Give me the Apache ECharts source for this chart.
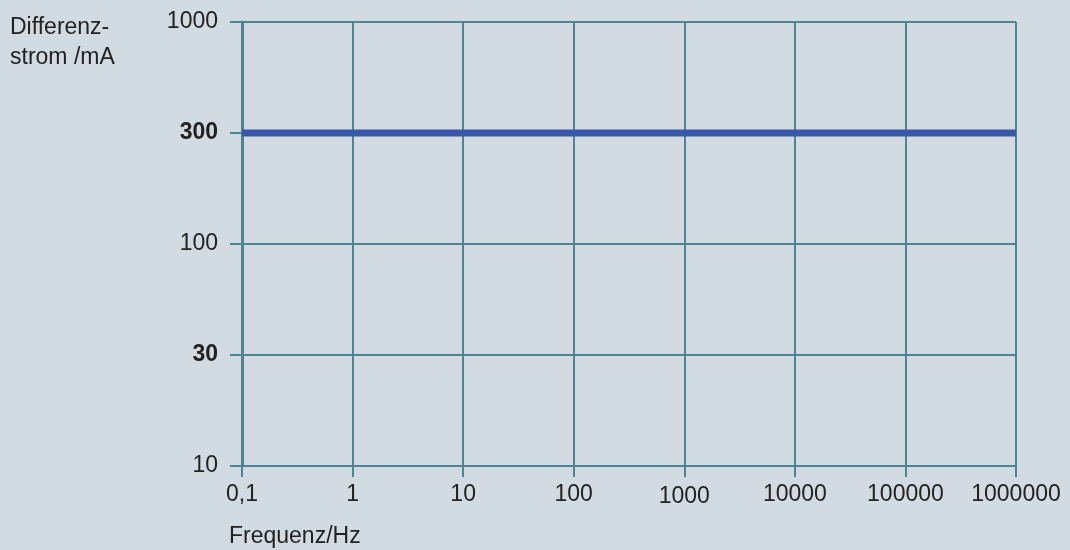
<!DOCTYPE html>
<html>
<head>
<meta charset="utf-8">
<script src="https://cdn.jsdelivr.net/npm/echarts@6/dist/echarts.min.js"></script>
<style>
html,body{margin:0;padding:0;background:#d2dbe1;}
#c{width:1070px;height:550px;}
</style>
</head>
<body>
<div id="c"></div>
<script>
const freqTicks = [0.1, 1, 10, 100, 1000, 10000, 100000, 1000000];
const freqLabels = ['0,1', '1', '10', '100', '1000', '10000', '100000', '1000000'];
const currentLevels = ['10', '30', '100', '300', '1000'];
const boldCurrentLevels = ['30', '300'];
const freq = [0.1, 1000000];
const current = ['300', '300'];

const axisColor = '#4e8593';
const textColor = '#222222';
const fontFamily = 'Liberation Sans, Arial, Helvetica, sans-serif';
const fs = 23;

const chart = echarts.init(document.getElementById('c'));
chart.setOption({
  backgroundColor: '#d2dbe1',
  animation: false,
  grid: { left: 242, right: 54, top: 22, bottom: 84, containLabel: false },
  title: [
    {
      text: 'Differenz-\nstrom /mA',
      left: 5, top: 8,
      textStyle: { fontFamily, fontSize: fs, fontWeight: 'normal', color: textColor, lineHeight: 30 }
    },
    {
      text: 'Frequenz/Hz',
      left: 224, top: 520,
      textStyle: { fontFamily, fontSize: fs, fontWeight: 'normal', color: textColor }
    }
  ],
  xAxis: {
    type: 'log',
    logBase: 10,
    min: 0.1,
    max: 1000000,
    axisLine: { show: true, lineStyle: { color: axisColor, width: 2 } },
    axisTick: { show: true, length: 11, customValues: freqTicks, lineStyle: { color: axisColor, width: 2 } },
    axisLabel: {
      customValues: freqTicks,
      margin: 17,
      fontFamily, fontSize: fs, color: textColor,
      formatter: function (v) {
        const i = freqTicks.findIndex(t => Math.abs(Math.log10(t) - Math.log10(v)) < 1e-6);
        if (i < 0) return '';
        return freqLabels[i] === '1000' ? '{d|1000}' : freqLabels[i];
      },
      rich: { d: { fontFamily, fontSize: fs, color: textColor, padding: [2, 0, 0, 0] } }
    },
    splitLine: { show: true, lineStyle: { color: axisColor, width: 2 } },
    minorTick: { show: false },
    minorSplitLine: { show: false }
  },
  yAxis: {
    type: 'category',
    data: currentLevels,
    boundaryGap: false,
    axisLine: { show: true, lineStyle: { color: axisColor, width: 3 } },
    axisTick: { show: true, length: 12, alignWithLabel: true, lineStyle: { color: axisColor, width: 2 } },
    axisLabel: {
      margin: 24,
      interval: 0,
      fontFamily, fontSize: fs, color: textColor,
      formatter: function (v) {
        return boldCurrentLevels.indexOf(v) >= 0 ? '{b|' + v + '}' : v;
      },
      rich: { b: { fontFamily, fontSize: fs, fontWeight: 'bold', color: textColor } }
    },
    splitLine: { show: true, interval: 0, lineStyle: { color: axisColor, width: 2 } }
  },
  series: [{
    type: 'line',
    data: freq.map((f, i) => [f, current[i]]),
    symbol: 'none',
    lineStyle: { color: '#3857a6', width: 7 },
    z: 5
  }]
});
</script>
</body>
</html>
